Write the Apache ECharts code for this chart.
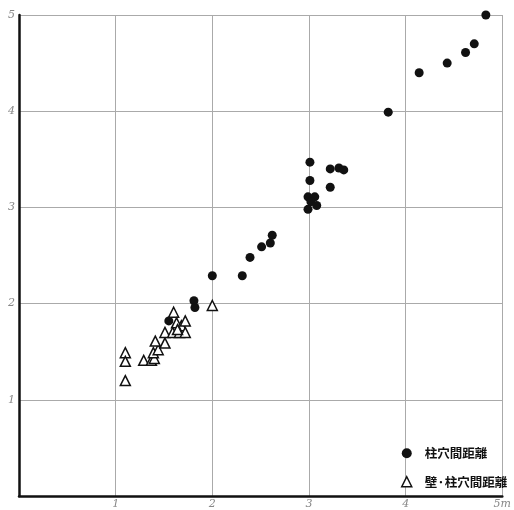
<!DOCTYPE html>
<html><head><meta charset="utf-8">
<script src="https://cdn.jsdelivr.net/npm/echarts@6/dist/echarts.min.js"></script>
<style>html,body{margin:0;padding:0;background:#fff}#c{width:514px;height:510px}</style>
</head><body><div id="c"></div>
<script>
const seriesNames = ['柱穴間距離', '壁·柱穴間距離'];
const xTicks = [0, 1, 2, 3, 4, 5];
const yTicks = [0, 1, 2, 3, 4, 5];
const pillarDist = [
  [4.83,5.00],[4.71,4.70],[4.62,4.61],[4.43,4.50],[4.14,4.40],[3.82,3.99],
  [3.01,3.47],[3.01,3.28],[3.22,3.40],[3.31,3.41],[3.36,3.39],[3.22,3.21],
  [2.99,3.11],[3.06,3.11],[3.02,3.06],[3.08,3.02],[2.99,2.98],
  [2.62,2.71],[2.60,2.63],[2.51,2.59],[2.39,2.48],[2.31,2.29],[2.00,2.29],
  [1.81,2.03],[1.82,1.96],[1.55,1.82]
];
const wallPillarDist = [
  [1.10,1.49],[1.10,1.40],[1.10,1.20],[1.29,1.41],[1.37,1.41],[1.40,1.43],
  [1.39,1.49],[1.44,1.52],[1.41,1.61],[1.51,1.59],[1.51,1.70],[1.60,1.91],
  [1.63,1.80],[1.68,1.77],[1.72,1.82],[1.59,1.70],[1.66,1.70],[1.72,1.70],
  [1.64,1.73],[2.00,1.98]
];
const chart = echarts.init(document.getElementById('c'), null, {renderer:'canvas'});
const labelStyle = {color:'#888', fontSize:11, fontStyle:'italic', fontFamily:'DejaVu Serif'};
chart.setOption({
  animation:false,
  grid:{left:19, right:9, top:15, bottom:10, containLabel:false},
  legend:{
    orient:'vertical', left:396, top:442, itemGap:16, itemWidth:10, itemHeight:10,
    textStyle:{color:'#111', fontSize:12.5, fontWeight:'bold', fontFamily:'Noto Sans CJK JP', padding:[0,0,0,8]},
    data:[
      {name:seriesNames[0], icon:'circle', itemStyle:{color:'#111'}},
      {name:seriesNames[1], icon:'triangle', itemStyle:{color:'#fff', borderColor:'#111', borderWidth:1.5}}
    ]
  },
  xAxis:{
    type:'value', min:xTicks[0], max:xTicks[xTicks.length-1], interval:1,
    axisLine:{show:true, lineStyle:{color:'#111', width:2.5}},
    axisTick:{show:false},
    splitLine:{show:true, lineStyle:{color:'#aaa', width:1}},
    axisLabel:Object.assign({margin:3, formatter:v=> v===0?'':(v===5?'5m':String(v))}, labelStyle)
  },
  yAxis:{
    type:'value', min:yTicks[0], max:yTicks[yTicks.length-1], interval:1,
    axisLine:{show:true, lineStyle:{color:'#111', width:2.5}},
    axisTick:{show:false},
    splitLine:{show:true, lineStyle:{color:'#aaa', width:1}},
    axisLabel:Object.assign({margin:4, formatter:v=> v===0?'':String(v)}, labelStyle)
  },
  series:[
    {name:seriesNames[0], type:'scatter', data:pillarDist, symbol:'circle', symbolSize:9,
     itemStyle:{color:'#111', opacity:1}},
    {name:seriesNames[1], type:'scatter', data:wallPillarDist, symbol:'triangle', symbolSize:10,
     itemStyle:{color:'#fff', borderColor:'#111', borderWidth:1.5, opacity:1}}
  ]
});
</script></body></html>
